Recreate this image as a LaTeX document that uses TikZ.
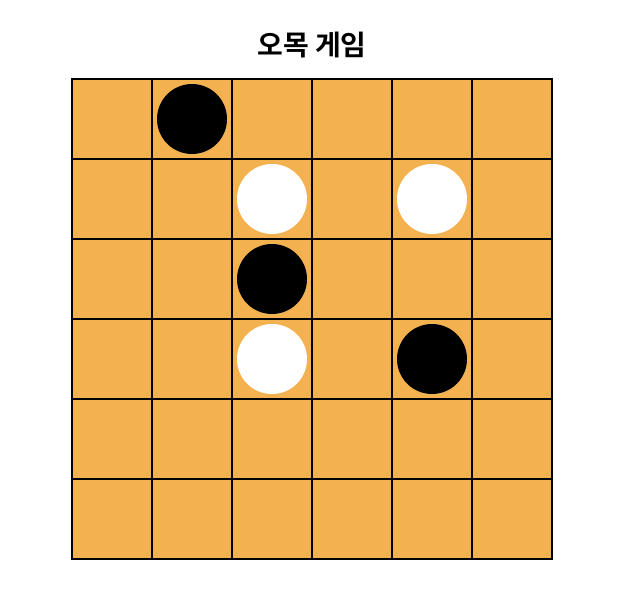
\documentclass[tikz,border=0pt]{standalone}
\usepackage{fontspec}
\newfontfamily\kr{Noto Sans CJK KR}[BoldFont={* Bold}]
\definecolor{board}{HTML}{F4B150}
\begin{document}
\begin{tikzpicture}[x=1pt,y=-1pt,
  cell/.style={draw=black,line width=1.3pt,fill=board},
  blackstone/.style={circle,fill=black,minimum size=70pt,inner sep=0pt},
  whitestone/.style={circle,fill=white,minimum size=70pt,inner sep=0pt}]
\useasboundingbox (0,0) rectangle (630,597);
\node (title) at (312,45) {\kr\bfseries\fontsize{28}{32}\selectfont 오목 게임};
\fill[board] (72,79) rectangle (552,559);
\foreach \i in {0,...,5}{
  \foreach \j in {0,...,5}{
    \draw[line width=1.3pt] (72+80*\i,79+80*\j) rectangle ++(80,80);
  }
}
\draw[line width=1pt] (72,79) rectangle (552,559);
\node[blackstone] (b1) at (192,119) {};
\node[whitestone] (w1) at (272,199) {};
\node[whitestone] (w2) at (432,199) {};
\node[blackstone] (b2) at (272,279) {};
\node[whitestone] (w3) at (272,359) {};
\node[blackstone] (b3) at (432,359) {};
\end{tikzpicture}
\end{document}
